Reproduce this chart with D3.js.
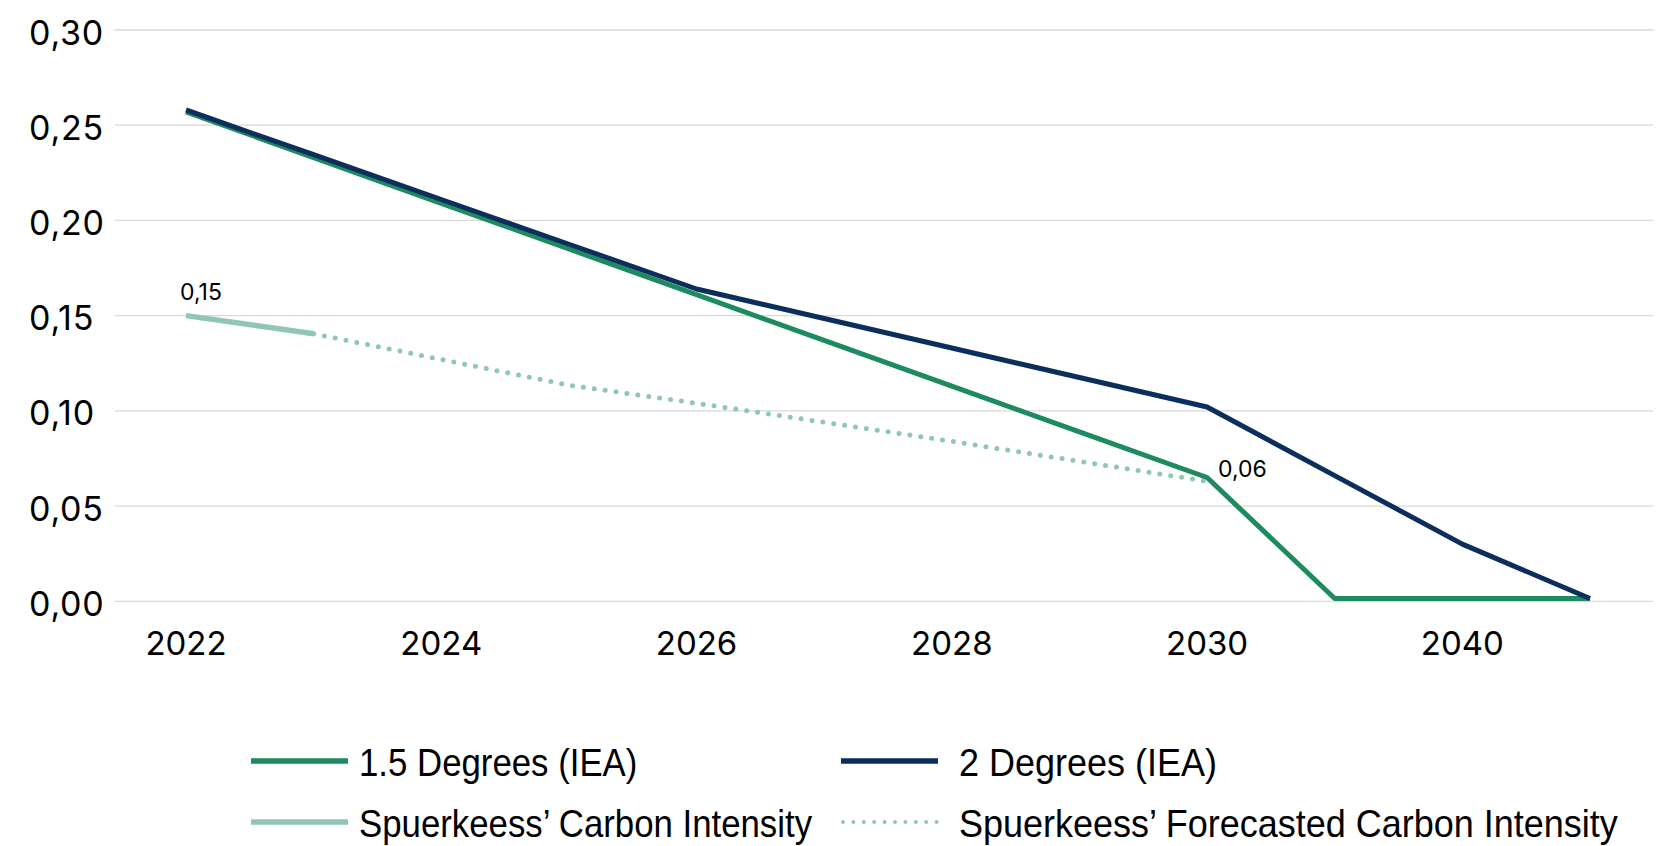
<!DOCTYPE html>
<html>
<head>
<meta charset="utf-8">
<script src="https://cdn.jsdelivr.net/npm/d3@7"></script>
<style>
  html, body { margin: 0; padding: 0; background: #ffffff; }
  svg { display: block; }
  .tick-label { font-family: Inter, "Noto Sans", sans-serif; fill: #000; }
  .legend-text { font-family: "Liberation Sans", Arial, sans-serif; fill: #000; }
</style>
</head>
<body>
<svg id="chart" width="1665" height="846"></svg>
<script>
// Years on the category axis
const years = ["2022", "2023", "2024", "2025", "2026", "2027", "2028", "2029", "2030", "2035", "2040", "2050"];
// Years that carry a visible tick label
const yearLabels = ["2022", "2024", "2026", "2028", "2030", "2040"];
// Carbon intensity pathways
const iea15 = [0.257, 0.233, 0.209, 0.185, 0.161, 0.137, 0.113, 0.089, 0.065, 0.0015, 0.0015, 0.0015];
const iea2 = [0.258, 0.2345, 0.211, 0.1875, 0.164, 0.1485, 0.133, 0.1175, 0.102, 0.066, 0.030, 0.0015];
const spkActual = [0.15, 0.1405, null, null, null, null, null, null, null, null, null, null];
const spkForecast = [null, 0.1405, 0.127, 0.1135, 0.104, 0.094, 0.084, 0.0735, 0.063, null, null, null];
// Y-axis ticks
const yTicks = [0, 0.05, 0.10, 0.15, 0.20, 0.25, 0.30];
// Legend entries
const legendNames = ["1.5 Degrees (IEA)", "2 Degrees (IEA)", "Spuerkeess’ Carbon Intensity", "Spuerkeess’ Forecasted Carbon Intensity"];

const colors = { iea15: "#1d8a5f", iea2: "#0b2e5c", spk: "#8fc7b0" };

const svg = d3.select("#chart");

const x = d3.scalePoint().domain(years).range([186, 1590]);
const y = d3.scaleLinear().domain([0, 0.30]).range([601.3, 30]);
const gridX0 = 115, gridX1 = 1653;

const commaFmt = v => d3.format(".2f")(v).replace(".", ",");

// Horizontal gridlines
svg.append("g").selectAll("line").data(yTicks).join("line")
  .attr("x1", gridX0).attr("x2", gridX1)
  .attr("y1", d => y(d)).attr("y2", d => y(d))
  .attr("stroke", "#d9d9d9").attr("stroke-width", 1.3);

// Y tick labels
svg.append("g").selectAll("text").data(yTicks).join("text")
  .attr("class", "tick-label")
  .attr("x", 29).attr("y", d => y(d) + 14.5)
  .attr("font-size", 34)
  .attr("letter-spacing", 0.8)
  .text(d => commaFmt(d));

// X tick labels
svg.append("g").selectAll("text").data(yearLabels).join("text")
  .attr("class", "tick-label")
  .attr("x", d => x(d)).attr("y", 655)
  .attr("text-anchor", "middle")
  .attr("font-size", 33)
  .text(d => d);

const lineGen = d3.line()
  .defined(d => d[1] !== null)
  .x(d => x(d[0])).y(d => y(d[1]));
const pairs = vals => years.map((yr, i) => [yr, vals[i]]);

// Forecast (dotted)
svg.append("path").datum(pairs(spkForecast))
  .attr("d", lineGen).attr("fill", "none")
  .attr("stroke", colors.spk).attr("stroke-width", 5)
  .attr("stroke-linecap", "round").attr("stroke-dasharray", "0 11");

// Reported carbon intensity
svg.append("path").datum(pairs(spkActual))
  .attr("d", lineGen).attr("fill", "none")
  .attr("stroke", colors.spk).attr("stroke-width", 5.5);

// IEA 1.5°C pathway
svg.append("path").datum(pairs(iea15))
  .attr("d", lineGen).attr("fill", "none")
  .attr("stroke", colors.iea15).attr("stroke-width", 5)
  .attr("stroke-linejoin", "round");

// IEA 2°C pathway
svg.append("path").datum(pairs(iea2))
  .attr("d", lineGen).attr("fill", "none")
  .attr("stroke", colors.iea2).attr("stroke-width", 5)
  .attr("stroke-linejoin", "round");

// Data labels
const firstIdx = 0;
svg.append("text").attr("class", "tick-label")
  .attr("x", x(years[firstIdx]) - 6).attr("y", y(spkActual[firstIdx]) - 15.5)
  .attr("font-size", 23)
  .text(commaFmt(spkActual[firstIdx]));
const lastIdx = 8;
svg.append("text").attr("class", "tick-label")
  .attr("x", x(years[lastIdx]) + 11).attr("y", y(spkForecast[lastIdx]) - 4)
  .attr("font-size", 23)
  .text(commaFmt(spkForecast[lastIdx]));

// Legend
const legendItems = [
  { name: legendNames[0], color: colors.iea15, dotted: false, lx: 251, ly: 761, tx: 108, fs: 34.8 },
  { name: legendNames[1], color: colors.iea2, dotted: false, lx: 841, ly: 761, tx: 118, fs: 36 },
  { name: legendNames[2], color: colors.spk, dotted: false, lx: 251, ly: 822, tx: 108, fs: 34.8 },
  { name: legendNames[3], color: colors.spk, dotted: true, lx: 841, ly: 822, tx: 118, fs: 36 }
];
const lg = svg.append("g").selectAll("g").data(legendItems).join("g")
  .attr("transform", d => `translate(${d.lx},${d.ly})`);
lg.append("line")
  .attr("x1", d => d.dotted ? 2 : 0).attr("x2", 97)
  .attr("y1", 0).attr("y2", 0)
  .attr("stroke", d => d.color)
  .attr("stroke-width", d => d.dotted ? 4 : 5.5)
  .attr("stroke-linecap", d => d.dotted ? "round" : "butt")
  .attr("stroke-dasharray", d => d.dotted ? "0 10.4" : null);
lg.append("text").attr("class", "legend-text")
  .attr("transform", d => `translate(${d.tx},15) scale(1,${(36 * 1.07 / d.fs).toFixed(3)})`)
  .attr("font-size", d => d.fs)
  .text(d => d.name);
</script>
</body>
</html>
